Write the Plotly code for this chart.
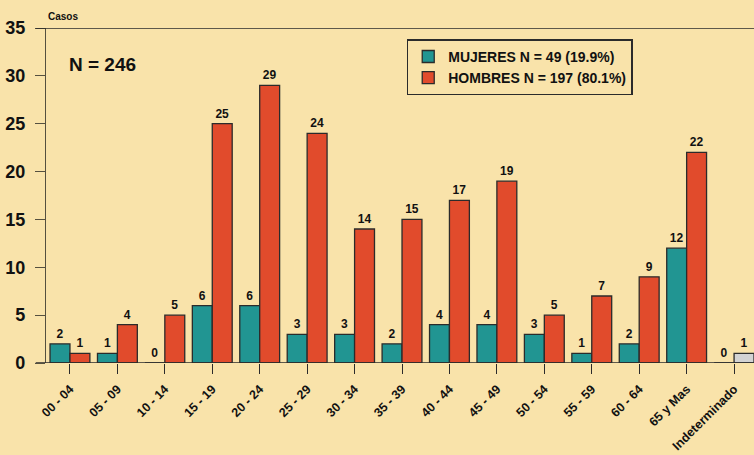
import plotly.graph_objects as go

categories = ["00 - 04", "05 - 09", "10 - 14", "15 - 19", "20 - 24", "25 - 29", "30 - 34",
              "35 - 39", "40 - 44", "45 - 49", "50 - 54", "55 - 59", "60 - 64", "65 y Mas", "Indeterminado"]
mujeres = [2, 1, 0, 6, 6, 3, 3, 2, 4, 4, 3, 1, 2, 12, 0]
hombres = [1, 4, 5, 25, 29, 24, 14, 15, 17, 19, 5, 7, 9, 22, 1]
y_ticks = [0, 5, 10, 15, 20, 25, 30, 35]

BG = "#F9E3AA"
TEAL = "#219592"
RED = "#E14B2C"
GRAY = "#D3D3D3"
LINE = "#2b2b2b"
FONT = "Liberation Sans, Arial, sans-serif"

hombres_colors = [RED] * (len(categories) - 1) + [GRAY]

fig = go.Figure()
fig.add_trace(go.Bar(
    x=categories, y=mujeres, name="<b>MUJERES N = 49 (19.9%)</b>",
    marker=dict(color=TEAL, line=dict(color=LINE, width=1.3)),
    text=["<b>%d</b>" % v for v in mujeres], textposition="outside",
    textfont=dict(family=FONT, size=12, color="#111"), cliponaxis=False,
))
fig.add_trace(go.Bar(
    x=categories, y=hombres, name="<b>HOMBRES N = 197 (80.1%)</b>",
    marker=dict(color=hombres_colors, line=dict(color=LINE, width=1.3)),
    text=["<b>%d</b>" % v for v in hombres], textposition="outside",
    textfont=dict(family=FONT, size=12, color="#111"), cliponaxis=False,
))

fig.update_layout(
    width=754, height=455,
    paper_bgcolor=BG, plot_bgcolor=BG,
    margin=dict(l=46, r=0, t=28, b=92, autoexpand=False),
    barmode="group", bargap=0.16, bargroupgap=0,
    font=dict(family=FONT, color="#111"),
    showlegend=True,
    legend=dict(
        x=0.5095, y=0.966, xanchor="left", yanchor="top",
        bgcolor=BG, bordercolor=LINE, borderwidth=1.5,
        font=dict(family=FONT, size=14, color="#111"),
        itemwidth=30, tracegroupgap=0,
    ),
    xaxis=dict(
        type="category", range=[-0.505, 14.42], automargin=False,
        showline=False, showgrid=False, zeroline=False,
        ticks="outside", ticklen=10, tickcolor=LINE, tickwidth=1.3,
        ticklabelstandoff=3,
        tickangle=-45, tickfont=dict(family=FONT, size=12.5, color="#111"),
        tickvals=categories, ticktext=["<b>%s</b>" % c for c in categories],
    ),
    yaxis=dict(
        range=[0, 35], tickvals=y_ticks, ticktext=["<b>%d</b>" % v for v in y_ticks],
        automargin=False,
        showline=True, linecolor="#55503f", linewidth=1.3,
        showgrid=False, zeroline=False,
        ticks="outside", ticklen=10, tickcolor="#55503f", tickwidth=1.3,
        ticklabelstandoff=6,
        tickfont=dict(family=FONT, size=18, color="#111"),
    ),
    shapes=[
        dict(type="line", xref="paper", yref="y", x0=-0.0145, x1=1, y0=0, y1=0,
             line=dict(color=LINE, width=1.5), layer="above"),
        dict(type="line", xref="paper", yref="y", x0=-0.0145, x1=1, y0=35, y1=35,
             line=dict(color=LINE, width=1.5)),
    ],
    annotations=[
        dict(text="<b>Casos</b>", xref="paper", yref="paper", x=0.0, y=1.0, yshift=4,
             xanchor="left", yanchor="bottom", showarrow=False,
             font=dict(family=FONT, size=10, color="#111")),
        dict(text="<b>N = 246</b>", xref="paper", yref="y", x=0.029, y=31.2,
             xanchor="left", yanchor="middle", showarrow=False,
             font=dict(family=FONT, size=19, color="#111")),
    ],
)
fig.write_html(
    "out.html",
    config={"displayModeBar": False},
    post_script="document.body.style.margin='0';document.body.style.overflow='hidden';",
)
